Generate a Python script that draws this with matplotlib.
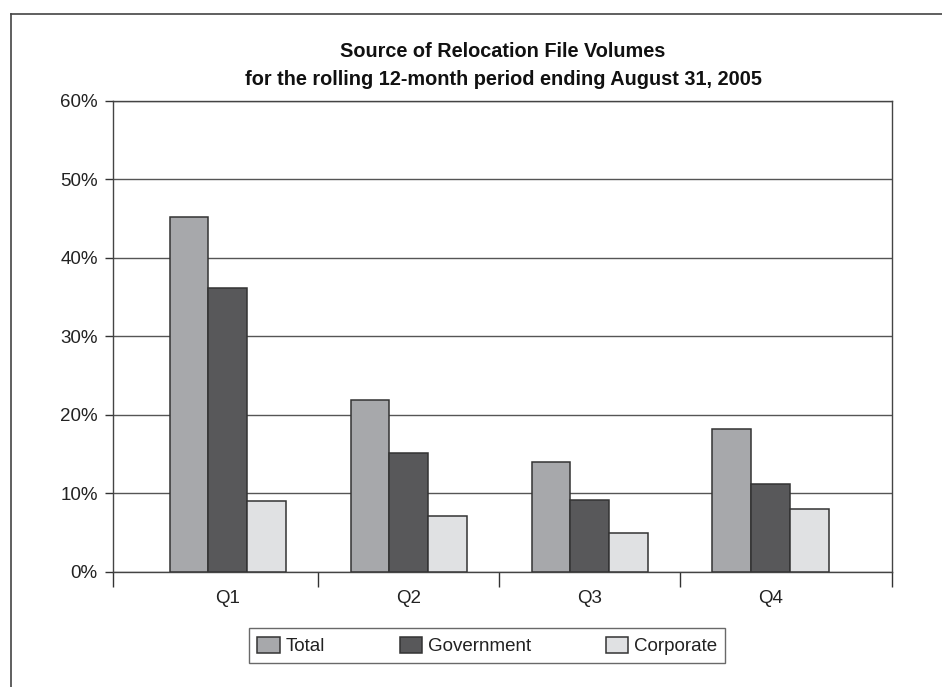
import matplotlib
matplotlib.use("Agg")
import matplotlib.pyplot as plt
from matplotlib.lines import Line2D
from matplotlib.ticker import FuncFormatter
import numpy as np

quarters = ["Q1", "Q2", "Q3", "Q4"]
total = [45.2, 21.9, 14.0, 18.2]
government = [36.2, 15.2, 9.2, 11.2]
corporate = [9.0, 7.1, 5.0, 8.0]
series_names = ["Total", "Government", "Corporate"]
colors = ["#a7a8ab", "#58585a", "#e0e1e3"]

plt.rcParams['font.family'] = ['Liberation Sans', 'DejaVu Sans']

fig = plt.figure(figsize=(9.42, 6.87), dpi=100)
ax = fig.add_axes([0.12, 0.1674, 0.827, 0.6856])

x = np.arange(len(quarters))
w = 0.215
for i, (vals, name, c) in enumerate(zip([total, government, corporate], series_names, colors)):
    ax.bar(x + (i - 1) * w, vals, w, color=c, edgecolor="#333333", linewidth=1.1,
           label=name, zorder=3)

ax.set_xlim(-0.635, 3.67)
ax.set_ylim(0, 60)
ax.set_yticks(range(0, 61, 10))
ax.yaxis.set_major_formatter(FuncFormatter(lambda v, p: f"{v:.0f}%"))
ax.grid(axis="y", color="#555555", linewidth=1.0, zorder=0)
ax.tick_params(axis="y", length=6, width=1, color="#333333", pad=5, labelsize=13.5,
               labelcolor="#222222")

# category labels centred, boundary ticks between them
ax.set_xticks(x)
ax.set_xticklabels(quarters, fontsize=13.5, color="#222222")
ax.tick_params(axis="x", which="major", length=0, pad=13)
ax.set_xticks([-0.635, 0.5, 1.5, 2.5, 3.67], minor=True)
ax.tick_params(axis="x", which="minor", length=11, width=1, color="#333333",
               direction="out")

for s in ax.spines.values():
    s.set_color("#444444")
    s.set_linewidth(1.0)

fig.text(0.534, 1 - 57 / 687, "Source of Relocation File Volumes", ha="center",
         va="baseline", fontsize=14.3, fontweight="bold", color="#111111")
fig.text(0.534, 1 - 85 / 687, "for the rolling 12-month period ending August 31, 2005",
         ha="center", va="baseline", fontsize=14.3, fontweight="bold", color="#111111")

leg = fig.legend(loc="center", bbox_to_anchor=(0.517, 0.06), ncol=3, fontsize=13.5,
                 frameon=True, fancybox=False, edgecolor="#444444",
                 handlelength=1.2, handleheight=0.95, handletextpad=0.3,
                 columnspacing=4.0, borderpad=0.45)
leg.get_frame().set_linewidth(1.0)
for t in leg.get_texts():
    t.set_color("#222222")

# outer frame lines (top and left)
fig.add_artist(Line2D([11 / 942, 1.0], [1 - 14 / 687, 1 - 14 / 687],
                      transform=fig.transFigure, color="#444444", linewidth=1.2))
fig.add_artist(Line2D([11 / 942, 11 / 942], [0.0, 1 - 14 / 687],
                      transform=fig.transFigure, color="#444444", linewidth=1.2))

fig.savefig("out.png", dpi=100)
